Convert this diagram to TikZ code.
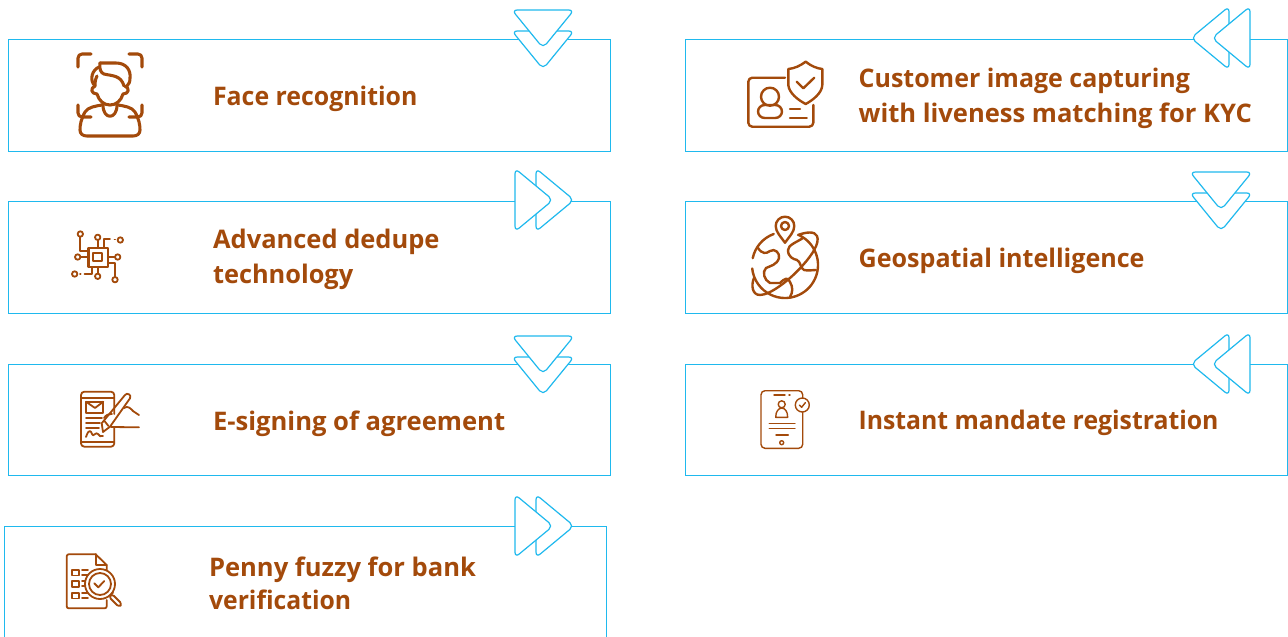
\documentclass[tikz,border=0pt]{standalone}
\usepackage{fontspec}
\setmainfont{Open Sans}
\definecolor{bl}{HTML}{1FB9EE}
\definecolor{br}{HTML}{A34A0B}
\tikzset{
 panel/.style={draw=bl,line width=0.7pt,fill=white},
 tri/.style={draw=bl,line width=0.9pt,fill=white,rounded corners=4pt,line join=round},
 lab/.style={anchor=base west,inner sep=0,text=br,font=\fontsize{19.2pt}{22pt}\selectfont\bfseries},
 ic/.style={draw=br,line width=2.3pt,line cap=round,line join=round},
 icm/.style={draw=br,line width=1.35pt,line cap=round,line join=round},
 ics/.style={draw=br,line width=1.05pt,line cap=round,line join=round}
}
\newcommand{\triD}[2]{\draw[tri] (#1-31,#2-28)--(#1+31,#2-28)--(#1,#2+10)--cycle;}
\newcommand{\triR}[2]{\draw[tri] (#1-18,#2-31.5)--(#1+20,#2)--(#1-18,#2+31.5)--cycle;}
\newcommand{\triL}[2]{\draw[tri] (#1+18,#2-31.5)--(#1-20,#2)--(#1+18,#2+31.5)--cycle;}
\newcommand{\pairD}[2]{\triD{#1}{#2+21}\triD{#1}{#2}}
\newcommand{\pairR}[2]{\triR{#1+21}{#2}\triR{#1}{#2}}
\newcommand{\pairL}[2]{\triL{#1}{#2}\triL{#1+21}{#2}}
\newcommand{\sx}[2]{\scalebox{#1}[1]{#2}}
\begin{document}
\begin{tikzpicture}[x=0.75pt,y=-0.75pt]
\useasboundingbox (0,0) rectangle (1288,636);
\clip (0,0) rectangle (1288,636);
\fill[white] (0,0) rectangle (1288,636);
% panels
\draw[panel] (8,39) rectangle (610,151);
\draw[panel] (8,201) rectangle (610,313);
\draw[panel] (8,364) rectangle (610,475);
\draw[panel] (4,526) rectangle (606,645);
\draw[panel] (685,39) rectangle (1287,151);
\draw[panel] (685,201) rectangle (1287,313);
\draw[panel] (685,364) rectangle (1287,475);
% chevrons
\pairD{543}{38}
\pairR{533}{200}
\pairD{543}{364}
\pairR{533}{526}
\pairL{1211}{38}
\pairD{1221}{200}
\pairL{1211}{364}
% labels
\node[lab] (t1) at (212.8,105) {\sx{0.971}{Face recognition}};
\node[lab] (t2) at (212.8,248) {\sx{0.995}{Advanced dedupe}};
\node[lab] (t2b) at (212.8,283) {\sx{0.99}{technology}};
\node[lab] (t3) at (212.8,430) {\sx{1.0}{E-signing of agreement}};
\node[lab] (t4) at (208.8,576) {\sx{0.998}{Penny fuzzy for bank}};
\node[lab] (t4b) at (208.8,609) {\sx{0.966}{verification}};
\node[lab] (t5) at (858.4,87) {\sx{0.976}{Customer image capturing}};
\node[lab] (t5b) at (858.4,122) {\sx{0.998}{with liveness matching for KYC}};
\node[lab] (t6) at (858.4,267) {\sx{0.98}{Geospatial intelligence}};
\node[lab] (t7) at (858.4,429) {\sx{0.968}{Instant mandate registration}};
% face icon
\begin{scope}[ic]
\draw[rounded corners=3pt] (78,67)--(78,54)--(91,54);
\draw[rounded corners=3pt] (129,54)--(142,54)--(142,67);
\draw[rounded corners=3pt] (78,105)--(78,117)--(91,117);
\draw[rounded corners=3pt] (142,105)--(142,117)--(129,117);
\draw (100,63)--(116,63) .. controls (126,63) and (131,70) .. (130,78) .. controls (130,82) and (129,84) .. (127,86);
\draw (100,63) .. controls (99,69) and (101,73) .. (104,74) .. controls (112,76) and (121,75) .. (124,86);
\draw (99,67) .. controls (92,70) and (89,80) .. (95,86);
\draw (97,76) .. controls (95,80) and (95,83) .. (95,86) .. controls (90,88) and (91,94) .. (97,94) .. controls (99,101) and (104,105) .. (110,105) .. controls (116,105) and (121,101) .. (123,94) .. controls (129,94) and (130,88) .. (125,86);
\draw (102,105) .. controls (96,106) and (88,107) .. (85,112) .. controls (81,119) and (80,125) .. (80,130) .. controls (80,134) and (83,136) .. (87,136) -- (133,136) .. controls (137,136) and (140,134) .. (140,130) .. controls (140,125) and (139,119) .. (135,112) .. controls (132,107) and (124,106) .. (118,105);
\draw (103,105) .. controls (103,120) and (117,120) .. (117,105);
\end{scope}
% chip icon
\begin{scope}[icm]
\draw[line width=1.8pt] (88.3,247.7) rectangle (107.7,267);
\draw (93.3,252.7) rectangle (101.7,261.3);
\foreach \a/\b in {80.3/234,97.7/237.3,120.3/240,77.7/257,117.7/257,74.7/274,97.7/276.3,115/279.7}{\draw (\a,\b) circle (2.7);}
\draw (80.3,237)--(80.3,251)--(88,251);
\draw (97.7,240)--(97.7,247.7);
\draw (104,247.7)--(104,239.3)--(110,239.3);
\draw (114.6,239.5)--(115.2,239.5);
\draw (80.5,257)--(88.3,257);
\draw (107.7,257)--(114.9,257);
\draw (91.7,267)--(91.7,274.3)--(84.5,274.3);
\draw (80,274.3)--(80.6,274.3);
\draw (97.7,267)--(97.7,273.5);
\draw (107.7,262.7)--(115,262.7)--(115,277);
\end{scope}
% e-sign icon
\begin{scope}[icm]
\draw[rounded corners=2.5pt] (114.3,414)--(114.3,391.7)--(81,391.7)--(81,446.7)--(114.3,446.7)--(114.3,428);
\draw (81,397.7)--(114.3,397.7);
\draw (81,442.3)--(114.3,442.3);
\draw (86,401.7) rectangle (103.3,413.3);
\draw (86,401.7)--(95,408)--(103.3,401.7);
\draw (86,418.3)--(102,418.3);
\draw (86,423.3)--(100,423.3);
\draw (86,428.3)--(99,428.3);
\draw (86,437) .. controls (89,428) and (91,431) .. (92,434) .. controls (93,438) and (96,431) .. (98,434) .. controls (99,437) and (101,436) .. (103,436);
\draw (103,432)--(101.7,423.3)--(125,395) .. controls (127,392) and (132,395) .. (130,398.3)--(110,426.7)--cycle;
\draw (104.5,421)--(108.5,426);
\draw (124,408) .. controls (128,405) and (131,409) .. (133,411)--(139,415);
\draw (111,427)--(139,427.3);
\draw (104,418) .. controls (106,415) and (108,414) .. (112,414);
\end{scope}
% doc icon
\begin{scope}[icm]
\draw[rounded corners=1.5pt] (106.7,600)--(106.7,608.3)--(66.7,608.3)--(66.7,554.3)--(95.7,554.3);
\draw (95.7,554.3)--(106.7,565)--(106.7,570);
\draw (95.7,554.3)--(95.7,565)--(106.7,565);
\draw (72.3,570) rectangle (79,575.5);
\draw (72.3,581) rectangle (79,586.7);
\draw (72.3,593) rectangle (79,598.5);
\foreach \b in {570,575,581,586,593,598}{\draw (82,\b)--(88,\b);}
\draw[fill=white] (100,584) circle (15);
\draw (100,584) circle (11);
\draw (94.3,583.3)--(98.3,587.3)--(104.3,581);
\draw (110.5,595) -- (113,592.6);
\draw[rounded corners=2pt] (112,594)--(122,604)--(119,607)--(109,597)--cycle;
\end{scope}
% id icon
\begin{scope}[ic,line width=1.8pt]
\draw[rounded corners=3pt] (785,77.7)--(748.3,77.7)--(748.3,126.7)--(813.3,126.7)--(813.3,105);
\draw (770,96.7) circle (9);
\draw[rounded corners=5pt] (758,118)--(758,105)--(782,105)--(782,118)--cycle;
\draw (790,109)--(800,109);
\draw (790,117.7)--(806.7,117.7);
\draw (805.7,61.7) .. controls (800,66) and (794,68.5) .. (788.3,69)--(788.3,85) .. controls (789,93) and (798,100) .. (805.7,104) .. controls (813,100) and (822,93) .. (822.3,85)--(822.3,69) .. controls (817,68.5) and (811,66) .. (805.7,61.7)--cycle;
\draw (796.7,81.7)--(803.3,88.3)--(814.3,77.7);
\end{scope}
% globe icon
\begin{scope}[ic,line width=1.8pt]
\draw (785,265) ++(-65:33) arc[start angle=-65,end angle=174,radius=33];
\draw (785,265) ++(192:33) arc[start angle=192,end angle=250,radius=33];
\draw[fill=white] (785,242.7) .. controls (781,237) and (775.7,232) .. (775.7,226) arc[start angle=180,end angle=360,radius=9.3] .. controls (794.3,232) and (789,237) .. (785,242.7)--cycle;
\draw (785,226) circle (4);
\draw (798,235) .. controls (806,232) and (815,231) .. (817,236) .. controls (820,243) and (812,255) .. (803,265) .. controls (790,280) and (770,295) .. (760,295) .. controls (752,295) and (751,285) .. (754,278);
\draw (758,248) .. controls (762,254) and (766,254) .. (770,251) .. controls (775,248) and (780,253) .. (779,258) .. controls (777,265) and (770,266) .. (766,268) .. controls (762,272) and (764,280) .. (770,283) -- (780,283) .. controls (785,278) and (788,277) .. (790,282) .. controls (793,287) and (793,292) .. (790,297);
\draw (803,238) .. controls (797,242) and (788,245) .. (788,250) .. controls (788,257) and (793,259) .. (797,260) .. controls (801,262) and (800,268) .. (804,270) .. controls (808,271) and (813,270) .. (816,270);
\end{scope}
% tablet icon
\begin{scope}[ics]
\draw[rounded corners=3pt] (802.7,398)--(802.7,390.7)--(761,390.7)--(761,448.3)--(802.7,448.3)--(802.7,412);
\draw (774,395)--(785,395);
\draw (789,395)--(790,395);
\draw (781.7,404.3) circle (3.5);
\draw (775.7,417.3) .. controls (775.7,405) and (787.7,405) .. (787.7,417.3)--cycle;
\draw (769.3,423.3)--(795,423.3);
\draw (769.3,428.3)--(795,428.3);
\draw (776,435)--(788.3,435);
\draw (781.7,442.7) circle (2);
\draw[fill=white] (802.3,405) circle (7);
\draw (799.3,405)--(801.6,407.3)--(805.3,402.7);
\end{scope}
\end{tikzpicture}
\end{document}
